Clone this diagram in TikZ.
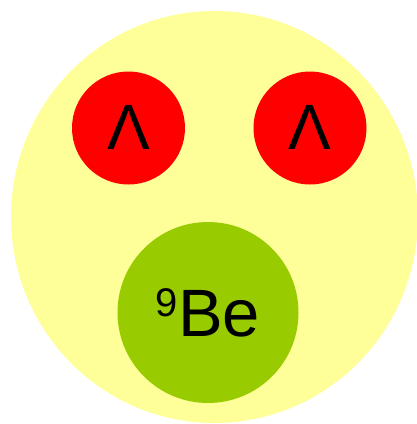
\documentclass[tikz,border=0pt]{standalone}
\usepackage{fontspec}
\setmainfont{Liberation Sans}
\usepackage{xcolor}
\usetikzlibrary{shapes.geometric}

\definecolor{hyperyellow}{HTML}{FFFF99}
\definecolor{lambdared}{HTML}{FF0000}
\definecolor{coregreen}{HTML}{99CC00}

\begin{document}
\begin{tikzpicture}[
    x=1pt, y=-1pt,
    ball/.style={
        circle,
        inner sep=0pt,
        outer sep=0pt,
        text=black
    },
    hypernucleus/.style={ellipse, inner sep=0pt, fill=hyperyellow,
        minimum width=407pt, minimum height=412pt},
    lambda/.style={ball, fill=lambdared, minimum size=113pt,
        font=\fontsize{64}{64}\selectfont},
    core/.style={ball, fill=coregreen, minimum size=181pt,
        font=\fontsize{67}{67}\selectfont}
]
\useasboundingbox (0,0) rectangle (416,424);

% Hypernucleus
\node[hypernucleus] (nucleus) at (214.5, 217) {};

% Lambda hyperons
\node[lambda] (lambdaL) at (128.5, 128) {\raisebox{2pt}{Λ}};
\node[lambda] (lambdaR) at (310, 128) {\raisebox{2pt}{Λ}};

% Core nucleus
\node[core] (be) at (208, 312.5) {{\fontsize{40}{40}\selectfont\raisebox{20pt}{9}}Be};

\end{tikzpicture}
\end{document}
